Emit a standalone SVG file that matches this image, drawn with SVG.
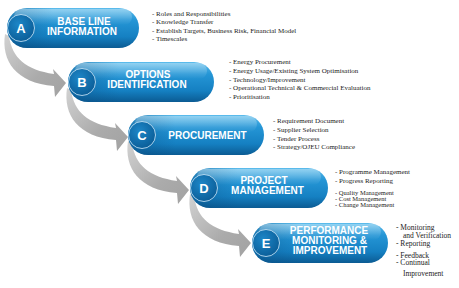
<svg xmlns="http://www.w3.org/2000/svg" xmlns:xlink="http://www.w3.org/1999/xlink" width="459" height="288" viewBox="0 0 459 288">
<defs>
<linearGradient id="pillG" x1="0" y1="0" x2="0" y2="1">
<stop offset="0" stop-color="#5cbcec"/>
<stop offset="0.3" stop-color="#2596d6"/>
<stop offset="0.72" stop-color="#1580c2"/>
<stop offset="1" stop-color="#0b5b93"/>
</linearGradient>
<linearGradient id="pillL" x1="0" y1="0" x2="1" y2="0">
<stop offset="0" stop-color="#0a4f85" stop-opacity="0.45"/>
<stop offset="0.35" stop-color="#0a4f85" stop-opacity="0"/>
</linearGradient>
<linearGradient id="gloss" x1="0" y1="0" x2="0" y2="1">
<stop offset="0" stop-color="#ffffff" stop-opacity="0.35"/>
<stop offset="1" stop-color="#ffffff" stop-opacity="0"/>
</linearGradient>
<radialGradient id="circG" cx="0.4" cy="0.35" r="0.7">
<stop offset="0" stop-color="#1d86c7"/>
<stop offset="1" stop-color="#0a5c96"/>
</radialGradient>
<linearGradient id="arrG" x1="0" y1="0" x2="1" y2="1">
<stop offset="0" stop-color="#d2d2d2"/>
<stop offset="0.6" stop-color="#ababab"/>
<stop offset="1" stop-color="#a2a2a2"/>
</linearGradient>
<path id="swoosh" d="M -13,6 C -17,33 -2,55 36,58 L 37,69 L 48,55 L 35,41 L 36,46 C 8,42 -6,30 -9,8 Z"/>
<style>
.pill{fill:url(#pillG)}
.shade{fill:url(#pillL)}
.gl{fill:url(#gloss)}
.circ{fill:url(#circG);stroke:#cfeafa;stroke-opacity:0.8;stroke-width:1}
.let{font-family:"Liberation Sans",Arial,sans-serif;font-weight:bold;font-size:13px;fill:#fff;text-anchor:middle}
.ttl{font-family:"Liberation Sans",Arial,sans-serif;font-weight:bold;font-size:10px;fill:#fff;text-anchor:middle}
.bul{font-family:"Liberation Serif","Times New Roman",serif;font-size:7px;fill:#222}
.bulS{font-family:"Liberation Serif","Times New Roman",serif;font-size:6.5px;fill:#222}
.bulE{font-family:"Liberation Serif","Times New Roman",serif;font-size:7.5px;fill:#222}
.arr{fill:url(#arrG)}
</style>
</defs>
<rect width="459" height="288" fill="#ffffff"/>

<g id="connectors">
<use xlink:href="#swoosh" href="#swoosh" class="arr" transform="translate(18,28)"/>
<use xlink:href="#swoosh" href="#swoosh" class="arr" transform="translate(80,82)"/>
<use xlink:href="#swoosh" href="#swoosh" class="arr" transform="translate(141,135)"/>
<use xlink:href="#swoosh" href="#swoosh" class="arr" transform="translate(203,188)"/>
</g>

<g id="nodeA">
<rect class="pill" x="7" y="8" width="132" height="40" rx="20"/>
<rect class="shade" x="7" y="8" width="132" height="40" rx="20"/>
<rect class="gl" x="14" y="9" width="118" height="16" rx="8"/>
<circle class="circ" cx="21" cy="28" r="13.5"/>
<text class="let" x="21" y="32.5">A</text>
<text class="ttl" x="84" y="24.5">BASE LINE</text>
<text class="ttl" x="82" y="34.5">INFORMATION</text>
<text class="bul" x="152" y="15.5">- Roles and Responsibilities</text>
<text class="bul" x="152" y="24">- Knowledge Transfer</text>
<text class="bul" x="152" y="32.5">- Establish Targets, Business Risk, Financial Model</text>
<text class="bul" x="152" y="41">- Timescales</text>
</g>

<g id="nodeB">
<rect class="pill" x="68" y="62" width="146" height="40" rx="20"/>
<rect class="shade" x="68" y="62" width="146" height="40" rx="20"/>
<rect class="gl" x="75" y="63" width="132" height="16" rx="8"/>
<circle class="circ" cx="82" cy="82" r="13.5"/>
<text class="let" x="82" y="86.5">B</text>
<text class="ttl" x="148" y="77.5">OPTIONS</text>
<text class="ttl" x="147" y="87.5">IDENTIFICATION</text>
<text class="bul" x="229" y="63.5">- Energy Procurement</text>
<text class="bul" x="229" y="72.5">- Energy Usage/Existing System Optimisation</text>
<text class="bul" x="229" y="81.5">- Technology/Improvement</text>
<text class="bul" x="229" y="90">- Operational Technical &amp; Commercial Evaluation</text>
<text class="bul" x="229" y="99">- Prioritisation</text>
</g>

<g id="nodeC">
<rect class="pill" x="128" y="115" width="136" height="40" rx="20"/>
<rect class="shade" x="128" y="115" width="136" height="40" rx="20"/>
<rect class="gl" x="135" y="116" width="122" height="16" rx="8"/>
<circle class="circ" cx="142" cy="135" r="13.5"/>
<text class="let" x="142" y="139.5">C</text>
<text class="ttl" x="207.5" y="138.5">PROCUREMENT</text>
<text class="bul" x="273" y="122.5">- Requirement Document</text>
<text class="bul" x="273" y="131.5">- Supplier Selection</text>
<text class="bul" x="273" y="140.5">- Tender Process</text>
<text class="bul" x="273" y="149">- Strategy/OJEU Compliance</text>
</g>

<g id="nodeD">
<rect class="pill" x="190" y="168" width="138" height="40" rx="20"/>
<rect class="shade" x="190" y="168" width="138" height="40" rx="20"/>
<rect class="gl" x="197" y="169" width="124" height="16" rx="8"/>
<circle class="circ" cx="204" cy="188" r="13.5"/>
<text class="let" x="204" y="192.5">D</text>
<text class="ttl" x="264" y="184">PROJECT</text>
<text class="ttl" x="267.5" y="194">MANAGEMENT</text>
<text class="bul" x="335" y="174">- Programme Management</text>
<text class="bul" x="335" y="183">- Progress Reporting</text>
<text class="bulS" x="335" y="194.5">- Quality Management</text>
<text class="bulS" x="335" y="200.5">- Cost Management</text>
<text class="bulS" x="335" y="206.5">- Change Management</text>
</g>

<g id="nodeE">
<rect class="pill" x="252" y="223" width="136" height="40" rx="20"/>
<rect class="shade" x="252" y="223" width="136" height="40" rx="20"/>
<rect class="gl" x="259" y="224" width="122" height="16" rx="8"/>
<circle class="circ" cx="266" cy="243" r="13.5"/>
<text class="let" x="266" y="247.5">E</text>
<text class="ttl" x="329" y="233.5">PERFORMANCE</text>
<text class="ttl" x="329.5" y="244">MONITORING &amp;</text>
<text class="ttl" x="330" y="253.5">IMPROVEMENT</text>
<text class="bulE" x="396" y="230">- Monitoring</text>
<text class="bulE" x="403" y="238">and Verification</text>
<text class="bulE" x="396" y="245.5">- Reporting</text>
<text class="bulE" x="396" y="257.5">- Feedback</text>
<text class="bulE" x="396" y="265">- Continual</text>
<text class="bulE" x="403" y="276">Improvement</text>
</g>
</svg>
